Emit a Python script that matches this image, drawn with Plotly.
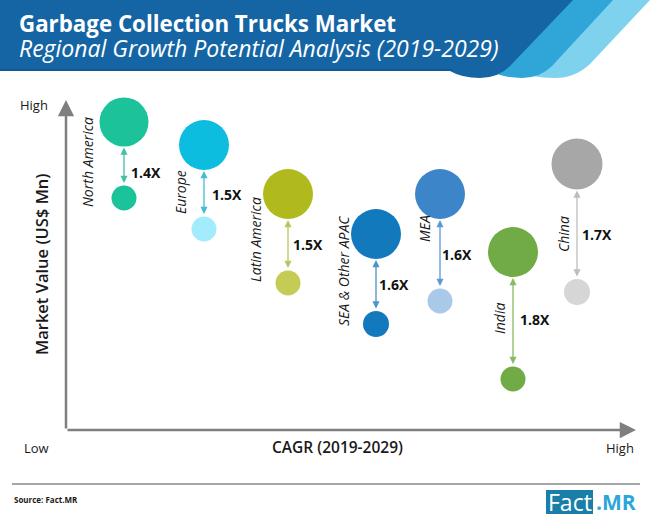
import plotly.graph_objects as go

W, H = 650, 522
FONT = "Open Sans"

regions = ["North America", "Europe", "Latin America", "SEA & Other APAC", "MEA", "India", "China"]
multiples = ["1.4X", "1.5X", "1.5X", "1.6X", "1.6X", "1.8X", "1.7X"]
# axis units: distance from the axis origin
cagr = [58, 138, 222, 310, 374, 447, 511]
value_2029 = [308, 285, 236, 196, 236, 178, 266]
value_2019 = [232, 201, 147, 106, 129, 51, 138]
size_2029 = [49, 50, 50, 50, 50, 50, 51]
size_2019 = [25, 25, 25, 26, 25, 25, 26]
colors_2029 = ["#1cc29a", "#0dbde0", "#b0ba1c", "#1279bd", "#3c85c9", "#71ab45", "#a7a7a7"]
colors_2019 = ["#1cc29a", "#a3ecfb", "#c4cc55", "#1279bd", "#aac8e8", "#71ab45", "#d6d6d6"]
arrow_colors = ["#45bfa5", "#45bcd5", "#bcc560", "#4b93c8", "#5b9ad4", "#88bb62", "#bdbdbd"]
label_x = [21, 114, 189, 277, 358, 433, 497]
label_y = [268, 238, 190, 159, 201, 111, 196]
mult_x = [80, 161, 242, 328, 391, 469, 531]
mult_y = [258, 236, 186, 146, 176, 111, 196]

fig = go.Figure()

OX, OY = 66, 430


def px(x):
    return x / W


def py(y):
    return 1 - y / H


# header banner, back to front
fig.add_shape(type="path", xref="paper", yref="paper", line_width=0, fillcolor="#7fd2ee",
              path=f"M {px(540)} {py(0)} L {px(650)} {py(0)} L {px(590)} {py(64)} "
                   f"Q {px(575)} {py(78)} {px(555)} {py(78)} Q {px(530)} {py(78)} {px(510)} {py(68)} Z")
fig.add_shape(type="path", xref="paper", yref="paper", line_width=0, fillcolor="#2fa5d8",
              path=f"M {px(520)} {py(0)} L {px(613)} {py(0)} L {px(552)} {py(66)} "
                   f"Q {px(540)} {py(78)} {px(522)} {py(78)} Q {px(500)} {py(78)} {px(485)} {py(68)} Z")
fig.add_shape(type="path", xref="paper", yref="paper", line_width=0, fillcolor="#1565a5",
              path=f"M {px(0)} {py(0)} L {px(573)} {py(0)} L {px(510)} {py(66)} "
                   f"Q {px(498)} {py(78)} {px(480)} {py(78)} Q {px(462)} {py(78)} {px(450)} {py(71)} "
                   f"L {px(0)} {py(71)} Z")
fig.add_shape(type="line", xref="paper", yref="paper", x0=0, x1=px(452), y0=py(70), y1=py(70),
              line=dict(color="#0d5a94", width=2))

# footer rule and logo block
fig.add_shape(type="line", xref="paper", yref="paper", x0=px(12), x1=px(640), y0=py(484), y1=py(484),
              line=dict(color="#a6a6a6", width=2))
fig.add_shape(type="rect", xref="paper", yref="paper", x0=px(546), x1=px(593), y0=py(490), y1=py(514),
              line_width=0, fillcolor="#1a7fa8")

# main axes
fig.add_annotation(x=0, y=330, ax=0, ay=0, axref="x", ayref="y", xref="x", yref="y", text="", showarrow=True,
                   arrowhead=2, arrowsize=1.3, arrowwidth=2.5, arrowcolor="#7f7f7f")
fig.add_annotation(x=570, y=0, ax=0, ay=0, axref="x", ayref="y", xref="x", yref="y", text="", showarrow=True,
                   arrowhead=2, arrowsize=1.3, arrowwidth=2.5, arrowcolor="#7f7f7f")

for i, region in enumerate(regions):
    top = value_2029[i] - size_2029[i] / 2 - 1
    bottom = value_2019[i] + size_2019[i] / 2 + 1
    fig.add_annotation(x=cagr[i], y=top, ax=cagr[i], ay=bottom, axref="x", ayref="y", xref="x", yref="y",
                       text="", showarrow=True, arrowhead=2, startarrowhead=2, arrowside="end+start",
                       arrowsize=1.1, startarrowsize=1.1, arrowwidth=1.3, arrowcolor=arrow_colors[i])
    fig.add_annotation(x=label_x[i], y=label_y[i], xref="x", yref="y", text=f"<i>{region}</i>",
                       textangle=-90, showarrow=False, font=dict(family=FONT, size=14, color="#1a1a1a"))
    fig.add_annotation(x=mult_x[i], y=mult_y[i], xref="x", yref="y", text=f"<b>{multiples[i]}</b>",
                       showarrow=False, font=dict(family=FONT, size=14, color="#111111"))

fig.add_trace(go.Scatter(x=cagr, y=value_2029, mode="markers", cliponaxis=False, hoverinfo="skip",
                         marker=dict(size=size_2029, color=colors_2029, line_width=0, opacity=1)))
fig.add_trace(go.Scatter(x=cagr, y=value_2019, mode="markers", cliponaxis=False, hoverinfo="skip",
                         marker=dict(size=size_2019, color=colors_2019, line_width=0, opacity=1)))


def paper_text(x, y, text, size, color="#1a1a1a", anchor="center", angle=0, weight=None):
    fig.add_annotation(x=px(x), y=py(y), xref="paper", yref="paper", text=text, showarrow=False, xanchor=anchor,
                       yanchor="middle", textangle=angle,
                       font=dict(family=FONT, size=size, color=color, weight=weight))


paper_text(17, 23, "<b>Garbage Collection Trucks Market</b>", 22.3, "white", "left")
paper_text(17, 48, "<i>Regional Growth Potential Analysis (2019-2029)</i>", 23, "white", "left")
paper_text(34, 105, "High", 13)
paper_text(36, 448, "Low", 13)
paper_text(620, 448, "High", 13)
paper_text(337, 447, "CAGR (2019-2029)", 15.5, weight=600)
paper_text(41, 264, "Market Value (US$ Mn)", 16.5, angle=-90, weight=600)
paper_text(12, 499, "<b>Source: Fact.MR</b>", 8, "#1a1a1a", "left")
paper_text(570, 502, "Fact", 23, "white")
paper_text(616, 502, "<b>.MR</b>", 21, "#2ba6d8")

fig.update_layout(
    width=W, height=H, margin=dict(l=0, r=0, t=0, b=0), showlegend=False,
    paper_bgcolor="white", plot_bgcolor="white",
    xaxis=dict(range=[-OX, W - OX], visible=False, domain=[0, 1]),
    yaxis=dict(range=[OY - H, OY], visible=False, domain=[0, 1]),
)

fig.write_html("out.html", config={"displayModeBar": False},
               post_script="document.body.style.margin='0';")
